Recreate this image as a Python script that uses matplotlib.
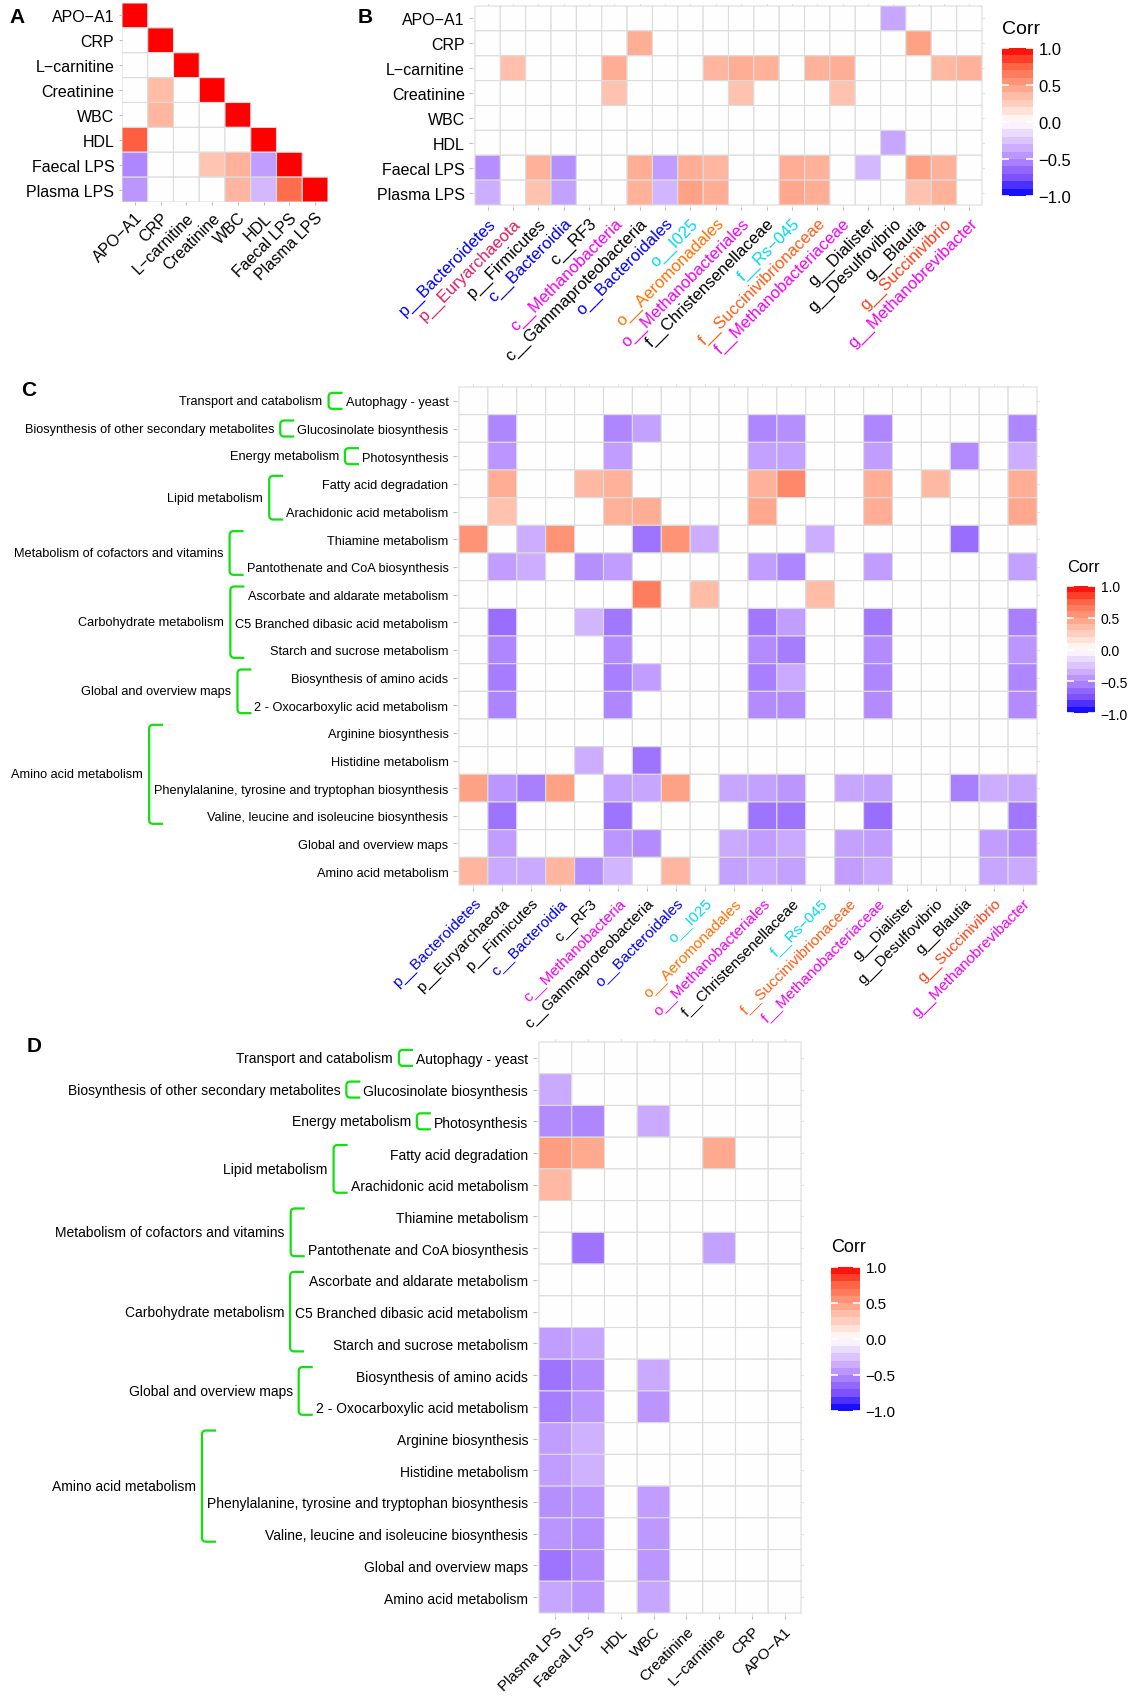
import numpy as np
import matplotlib
matplotlib.use('Agg')
import matplotlib.pyplot as plt
from matplotlib.colors import LinearSegmentedColormap, ListedColormap, Normalize
from matplotlib.path import Path
from matplotlib.patches import PathPatch
import matplotlib.cm as cm

plt.rcParams['font.family'] = ['Liberation Sans', 'DejaVu Sans']

W, H = 1133, 1699

# ---- data ----
clinical = ['APO−A1', 'CRP', 'L−carnitine', 'Creatinine', 'WBC', 'HDL', 'Faecal LPS', 'Plasma LPS']
# lower triangle of clinical correlation (row i has i+1 values)
corr_clin = [
    [1],
    [0, 1],
    [0, 0, 1],
    [0, 0.35, 0, 1],
    [0, 0.38, 0, 0, 1],
    [0.77, 0, 0, 0, 0, 1],
    [-0.52, 0, 0, 0.30, 0.40, -0.42, 1],
    [-0.45, 0, 0, 0, 0.38, -0.30, 0.72, 1],
]

taxa = ['p__Bacteroidetes', 'p__Euryarchaeota', 'p__Firmicutes', 'c__Bacteroidia', 'c__RF3',
        'c__Methanobacteria', 'c__Gammaproteobacteria', 'o__Bacteroidales', 'o__I025',
        'o__Aeromonadales', 'o__Methanobacteriales', 'f__Christensenellaceae', 'f__Rs−045',
        'f__Succinivibrionaceae', 'f__Methanobacteriaceae', 'g__Dialister', 'g__Desulfovibrio',
        'g__Blautia', 'g__Succinivibrio', 'g__Methanobrevibacter']
taxa_colors_B = ['#0000EE', '#E01B5A', 'black', '#0000EE', 'black', '#F000F0', 'black', '#0000EE',
                 '#00D8F0', '#FF6E00', '#F000F0', 'black', '#00D8F0', '#FF5A14', '#F000F0',
                 'black', 'black', 'black', '#FF3C14', '#F000F0']
taxa_colors_C = ['#0000EE', 'black', 'black', '#0000EE', 'black', '#F000F0', 'black', '#0000EE',
                 '#00D8F0', '#FF6E00', '#F000F0', 'black', '#00D8F0', '#FF5A14', '#F000F0',
                 'black', 'black', 'black', '#FF3C14', '#F000F0']

corr_clin_taxa = [
    [0, 0, 0, 0, 0, 0, 0, 0, 0, 0, 0, 0, 0, 0, 0, 0, -0.38, 0, 0, 0],
    [0, 0, 0, 0, 0, 0, 0.42, 0, 0, 0, 0, 0, 0, 0, 0, 0, 0, 0.48, 0, 0],
    [0, 0.33, 0, 0, 0, 0.42, 0, 0, 0, 0.38, 0.42, 0.40, 0, 0.40, 0.42, 0, 0, 0, 0.36, 0.40],
    [0, 0, 0, 0, 0, 0.32, 0, 0, 0, 0, 0.32, 0, 0, 0, 0.32, 0, 0, 0, 0, 0],
    [0] * 20,
    [0, 0, 0, 0, 0, 0, 0, 0, 0, 0, 0, 0, 0, 0, 0, 0, -0.38, 0, 0, 0],
    [-0.48, 0, 0.40, -0.48, 0, 0, 0.42, -0.42, 0.42, 0.38, 0, 0, 0.42, 0.40, 0, -0.30, 0, 0.48, 0.40, 0],
    [-0.35, 0, 0.32, -0.40, 0, 0, 0.40, -0.32, 0.48, 0.42, 0, 0, 0.45, 0.42, 0, 0, 0, 0.32, 0.40, 0],
]

pathways = ['Autophagy - yeast', 'Glucosinolate biosynthesis', 'Photosynthesis',
            'Fatty acid degradation', 'Arachidonic acid metabolism', 'Thiamine metabolism',
            'Pantothenate and CoA biosynthesis', 'Ascorbate and aldarate metabolism',
            'C5 Branched dibasic acid metabolism', 'Starch and sucrose metabolism',
            'Biosynthesis of amino acids', '2 - Oxocarboxylic acid metabolism',
            'Arginine biosynthesis', 'Histidine metabolism',
            'Phenylalanine, tyrosine and tryptophan biosynthesis',
            'Valine, leucine and isoleucine biosynthesis', 'Global and overview maps',
            'Amino acid metabolism']
# (group name, first row, last row)
path_groups = [('Transport and catabolism', 0, 0),
               ('Biosynthesis of other secondary metabolites', 1, 1),
               ('Energy metabolism', 2, 2),
               ('Lipid metabolism', 3, 4),
               ('Metabolism of cofactors and vitamins', 5, 6),
               ('Carbohydrate metabolism', 7, 9),
               ('Global and overview maps', 10, 11),
               ('Amino acid metabolism', 12, 15)]

corr_path_taxa = [
    [0] * 20,
    [0, -.52, 0, 0, 0, -.52, -.40, 0, 0, 0, -.52, -.48, 0, 0, -.52, 0, 0, 0, 0, -.52],
    [0, -.45, 0, 0, 0, -.42, 0, 0, 0, 0, -.40, -.40, 0, 0, -.42, 0, 0, -.50, 0, -.35],
    [0, .42, 0, 0, .36, .40, 0, 0, 0, 0, .40, .60, 0, 0, .42, 0, .36, 0, 0, .42],
    [0, .32, 0, 0, 0, .40, .42, 0, 0, 0, .45, 0, 0, 0, .42, 0, 0, 0, 0, .45],
    [.55, 0, -.35, .55, 0, 0, -.60, .55, -.35, 0, 0, 0, -.35, 0, 0, 0, 0, -.62, 0, 0],
    [0, -.42, -.35, 0, -.48, -.42, 0, 0, 0, 0, -.42, -.52, 0, 0, -.42, 0, 0, 0, 0, -.40],
    [0, 0, 0, 0, 0, 0, .65, 0, .35, 0, 0, 0, .35, 0, 0, 0, 0, 0, 0, 0],
    [0, -.62, 0, 0, -.32, -.58, 0, 0, 0, 0, -.58, -.42, 0, 0, -.58, 0, 0, 0, 0, -.55],
    [0, -.52, 0, 0, 0, -.50, 0, 0, 0, 0, -.50, -.56, 0, 0, -.50, 0, 0, 0, 0, -.45],
    [0, -.56, 0, 0, 0, -.55, -.42, 0, 0, 0, -.55, -.36, 0, 0, -.52, 0, 0, 0, 0, -.52],
    [0, -.53, 0, 0, 0, -.52, 0, 0, 0, 0, -.50, -.50, 0, 0, -.50, 0, 0, 0, 0, -.50],
    [0] * 20,
    [0, 0, 0, 0, -.35, 0, -.60, 0, 0, 0, 0, 0, 0, 0, 0, 0, 0, 0, 0, 0],
    [.48, -.45, -.55, .48, 0, -.40, -.38, .48, 0, -.38, -.40, -.45, 0, -.38, -.40, 0, 0, -.55, -.35, -.38],
    [0, -.60, 0, 0, 0, -.60, 0, 0, 0, 0, -.60, -.60, 0, 0, -.62, 0, 0, 0, 0, -.58],
    [0, -.42, 0, 0, 0, -.45, -.50, 0, 0, -.36, -.42, -.36, 0, -.40, -.42, 0, 0, 0, -.42, -.50],
    [.38, -.36, -.36, .38, -.48, -.32, 0, .38, 0, -.40, -.36, -.40, 0, -.42, -.36, 0, 0, 0, -.38, -.36],
]

clin_D = ['Plasma LPS', 'Faecal LPS', 'HDL', 'WBC', 'Creatinine', 'L−carnitine', 'CRP', 'APO−A1']
corr_path_clin = [
    [0, 0, 0, 0, 0, 0, 0, 0],
    [-.36, 0, 0, 0, 0, 0, 0, 0],
    [-.50, -.52, 0, -.36, 0, 0, 0, 0],
    [.50, .44, 0, 0, 0, .44, 0, 0],
    [.36, 0, 0, 0, 0, 0, 0, 0],
    [0, 0, 0, 0, 0, 0, 0, 0],
    [0, -.60, 0, 0, 0, -.40, 0, 0],
    [0, 0, 0, 0, 0, 0, 0, 0],
    [0, 0, 0, 0, 0, 0, 0, 0],
    [-.42, -.38, 0, 0, 0, 0, 0, 0],
    [-.60, -.50, 0, -.36, 0, 0, 0, 0],
    [-.56, -.46, 0, -.46, 0, 0, 0, 0],
    [-.42, -.33, 0, 0, 0, 0, 0, 0],
    [-.42, -.33, 0, 0, 0, 0, 0, 0],
    [-.48, -.45, 0, -.42, 0, 0, 0, 0],
    [-.46, -.48, 0, -.44, 0, 0, 0, 0],
    [-.60, -.50, 0, -.45, 0, 0, 0, 0],
    [-.38, -.45, 0, -.38, 0, 0, 0, 0],
]

# blue - white - red, interpolated in Lab like ggplot's gradient2
cmap = LinearSegmentedColormap.from_list('corr', [
    (0.0, '#0000FF'), (0.125, '#7E51FF'), (0.25, '#B38BFF'), (0.375, '#DCC4FF'),
    (0.5, '#FFFFFF'), (0.625, '#FFCFBF'), (0.75, '#FF9E81'), (0.875, '#FF6846'), (1.0, '#FF0000')])
cmap_steps = ListedColormap(cmap(np.linspace(0.025, 0.975, 20)))
green = '#10E010'

fig = plt.figure(figsize=(W / 100, H / 100), dpi=100)


def box(L, T, R, B, nx, ny, pad):
    w = (R - L) / nx
    h = (B - T) / ny
    l, r, t, b = L - pad * w, R + pad * w, T - pad * h, B + pad * h
    return [l / W, 1 - b / H, (r - l) / W, (b - t) / H]


def heat(ax, mat, xl, yl, fsx, fsy, pad):
    mat = np.ma.masked_invalid(np.array(mat, dtype=float))
    ny, nx = mat.shape
    ax.pcolor(np.arange(nx + 1) - 0.5, np.arange(ny + 1) - 0.5, mat, cmap=cmap,
              vmin=-1, vmax=1, edgecolors='#DCDCDC', linewidth=0.8)
    ax.set_xlim(-0.5 - pad, nx - 0.5 + pad)
    ax.set_ylim(ny - 0.5 + pad, -0.5 - pad)
    ax.set_xticks(range(nx))
    ax.set_yticks(range(ny))
    ax.set_xticklabels(xl, rotation=45, ha='right', va='top', rotation_mode='anchor', fontsize=fsx)
    ax.set_yticklabels(yl, fontsize=fsy)
    for s in ax.spines.values():
        s.set_visible(False)
    ax.tick_params(length=2.5, width=0.8, color='#BBBBBB', pad=3)
    if pad > 0:
        ax.grid(True, color='#E3E3E3', lw=0.8)
        ax.set_axisbelow(True)


def legend(L, T, R, B, fs_title, fs_lab):
    cax = fig.add_axes([L / W, 1 - B / H, (R - L) / W, (B - T) / H])
    cb = fig.colorbar(cm.ScalarMappable(norm=Normalize(-1, 1), cmap=cmap_steps), cax=cax)
    cb.outline.set_visible(False)
    cb.set_ticks([-1, -0.5, 0, 0.5, 1])
    cb.set_ticklabels(['−1.0', '−0.5', '0.0', '0.5', '1.0'])
    cax.tick_params(direction='in', color='white', length=5, width=1.2, left=True, right=True,
                    labelsize=fs_lab, pad=4)
    fig.text(L / W, 1 - (T - 20) / H, 'Corr', fontsize=fs_title, ha='left', va='center')


def brackets(ax, groups, fs, arm=14, ext=8, tgap=6):
    fig.canvas.draw()
    rend = fig.canvas.get_renderer()
    labs = ax.get_yticklabels()
    inv = fig.transFigure.inverted()
    codes = [Path.MOVETO, Path.LINETO, Path.CURVE3, Path.CURVE3, Path.LINETO,
             Path.CURVE3, Path.CURVE3, Path.LINETO]
    for name, i0, i1 in groups:
        starts = {i: labs[i].get_window_extent(rend).x0 for i in range(i0, i1 + 1)}
        widest = min(starts, key=starts.get)
        x0 = starts[widest]
        # a long label in the middle of a group may run past the bracket arms
        gap = 3 if widest in (i0, i1) else -9
        yt = ax.transData.transform((0, i0))[1] + ext
        yb = ax.transData.transform((0, i1))[1] - ext
        xa = x0 - gap
        xv = xa - arm
        rr = 4
        verts = [(xa, yt), (xv + rr, yt), (xv, yt), (xv, yt - rr), (xv, yb + rr),
                 (xv, yb), (xv + rr, yb), (xa, yb)]
        fig.add_artist(PathPatch(Path(inv.transform(verts), codes), transform=fig.transFigure,
                                 fill=False, edgecolor=green, lw=1.6))
        tx, ty = inv.transform((xv - tgap, (yt + yb) / 2))
        fig.text(tx, ty, name, ha='right', va='center', fontsize=fs)


# ---- A ----
nA = len(clinical)
matA = np.full((nA, nA), np.nan)
for i, row in enumerate(corr_clin):
    matA[i, :len(row)] = row
axA = fig.add_axes(box(122, 4, 328, 203, nA, nA, 0))
heat(axA, matA, clinical, clinical, 11.5, 11.5, 0)

# ---- B ----
axB = fig.add_axes(box(475, 7, 982, 206, len(taxa), len(clinical), 0.1))
heat(axB, corr_clin_taxa, taxa, clinical, 12, 11.5, 0.1)
for lab, c in zip(axB.get_xticklabels(), taxa_colors_B):
    lab.set_color(c)
legend(1002, 49, 1033, 197, 14, 12)

# ---- C ----
axC = fig.add_axes(box(459, 388, 1037, 886, len(taxa), len(pathways), 0.1))
heat(axC, corr_path_taxa, taxa, pathways, 11, 9.2, 0.1)
for lab, c in zip(axC.get_xticklabels(), taxa_colors_C):
    lab.set_color(c)
legend(1067, 587, 1095, 714, 12, 10)

# ---- D ----
axD = fig.add_axes(box(539, 1043, 801, 1614, len(clin_D), len(pathways), 0.1))
heat(axD, corr_path_clin, clin_D, pathways, 11, 10, 0.1)
legend(831, 1268, 860, 1412, 13, 11)

brackets(axC, path_groups, 9.2)
brackets(axD, path_groups, 10)

for letter, x, y in [('A', 9, 8), ('B', 358, 8), ('C', 21, 381), ('D', 27, 1037)]:
    fig.text(x / W, 1 - y / H, letter, fontsize=15, fontweight='bold', ha='left', va='top')

fig.savefig('out.png', dpi=100, facecolor='white')
